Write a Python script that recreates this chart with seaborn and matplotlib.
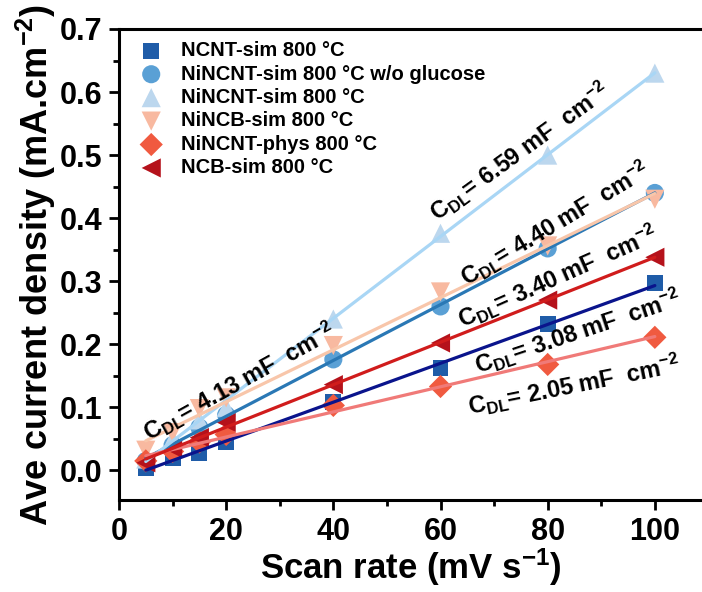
import numpy as np
import pandas as pd
import matplotlib
matplotlib.use("Agg")
import matplotlib.pyplot as plt
import seaborn as sns

sns.set_style("ticks")
plt.rcParams['font.family'] = ['Liberation Sans', 'DejaVu Sans']
plt.rcParams['mathtext.fontset'] = 'custom'
plt.rcParams['mathtext.rm'] = 'Liberation Sans:bold'
plt.rcParams['mathtext.it'] = 'Liberation Sans:bold'
plt.rcParams['mathtext.bf'] = 'Liberation Sans:bold'
for k in ['text.color', 'axes.labelcolor', 'xtick.color', 'ytick.color', 'axes.edgecolor']:
    plt.rcParams[k] = 'black'

scan_rate = [5, 10, 15, 20, 40, 60, 80, 100]
labels = ["NCNT-sim 800 °C", "NiNCNT-sim 800 °C w/o glucose", "NiNCNT-sim 800 °C",
          "NiNCB-sim 800 °C", "NiNCNT-phys 800 °C", "NCB-sim 800 °C"]
ncnt_sim = [0.003, 0.020, 0.028, 0.045, 0.108, 0.163, 0.232, 0.297]
nincnt_noglu = [0.015, 0.040, 0.068, 0.088, 0.176, 0.260, 0.352, 0.440]
nincnt_sim = [0.018, 0.050, 0.080, 0.100, 0.240, 0.376, 0.500, 0.630]
nincb_sim = [0.032, 0.060, 0.098, 0.115, 0.198, 0.283, 0.356, 0.430]
nincnt_phys = [0.015, 0.030, 0.045, 0.057, 0.103, 0.133, 0.168, 0.211]
ncb_sim = [0.012, 0.035, 0.052, 0.076, 0.136, 0.202, 0.270, 0.338]
series = [ncnt_sim, nincnt_noglu, nincnt_sim, nincb_sim, nincnt_phys, ncb_sim]

markers = ['s', 'o', '^', 'v', 'D', '<']
marker_colors = ['#1f5ca8', '#5aa0d5', '#bcd7ee', '#f8b9a0', '#f05a40', '#b5121b']
line_colors = ['#0a148c', '#2a78b5', '#a9d6f5', '#f8c6aa', '#f07a78', '#d01c1c']
marker_sizes = [130, 170, 190, 190, 140, 190]

cdl_texts = ["6.59", "4.40", "3.40", "3.08", "2.05", "4.13"]
cdl_pos = [(74.8, 0.505), (81.3, 0.391), (81.9, 0.307), (85.6, 0.220), (85.0, 0.135), (22.4, 0.141)]
cdl_rot = [36, 31, 24, 18.5, 11.4, 29]

fig = plt.figure(figsize=(7.02, 5.92), dpi=100)
top_px, bot_px, left_px = 29, 500, 119
ax = fig.add_axes([left_px/702, 1-bot_px/592, 1-left_px/702, (bot_px-top_px)/592])

for i, (lab, ys) in enumerate(zip(labels, series)):
    df = pd.DataFrame({"x": scan_rate, "y": ys})
    sns.scatterplot(data=df, x="x", y="y", marker=markers[i], s=marker_sizes[i],
                    color=marker_colors[i], edgecolor='none', label=lab, ax=ax, zorder=3)
for i, ys in enumerate(series):
    df = pd.DataFrame({"x": scan_rate, "y": ys})
    sns.regplot(data=df, x="x", y="y", scatter=False, ci=None, truncate=True,
                line_kws=dict(color=line_colors[i], lw=2.3, zorder=4), ax=ax)

for t, (px, py), r in zip(cdl_texts, cdl_pos, cdl_rot):
    ax.text(px, py, r"C$_{\mathrm{DL}}$= " + t + r" mF  cm$^{\mathrm{-2}}$",
            rotation=r, rotation_mode='anchor', ha='center', va='center',
            fontsize=17, fontweight='bold', color='black', zorder=6)

ax.set_xlim(0, 108.8)
ax.set_ylim(-0.047, 0.70)
ax.set_xticks([0, 20, 40, 60, 80, 100])
ax.set_xticks([10, 30, 50, 70, 90], minor=True)
ax.set_yticks(np.arange(0, 0.71, 0.1))
ax.set_yticks(np.arange(0.05, 0.7, 0.1), minor=True)
ax.set_yticklabels([f"{v:.1f}" for v in np.arange(0, 0.71, 0.1)])
ax.tick_params(axis='both', which='major', direction='out', length=7, width=2,
               labelsize=22, pad=5)
ax.tick_params(axis='both', which='minor', direction='out', length=4, width=2)
for lbl in ax.get_xticklabels() + ax.get_yticklabels():
    lbl.set_fontweight('bold')
for s in ['left', 'bottom', 'top']:
    ax.spines[s].set_linewidth(2.2)
    ax.spines[s].set_color('black')
ax.spines['right'].set_visible(False)
ax.set_xlabel(r"Scan rate (mV s$^{\mathrm{-1}}$)", fontsize=25, fontweight='bold', labelpad=0)
ax.set_ylabel(r"Ave current density (mA.cm$^{\mathrm{-2}}$)", fontsize=26, fontweight='bold', labelpad=1)

leg = ax.legend(loc='upper left', frameon=False, prop={'weight': 'bold', 'size': 14.5},
                handletextpad=0.5, labelspacing=0.22, borderaxespad=0.2,
                bbox_to_anchor=(0.0, 1.0))
for txt in leg.get_texts():
    txt.set_color('black')

fig.savefig("out.png", dpi=100)
